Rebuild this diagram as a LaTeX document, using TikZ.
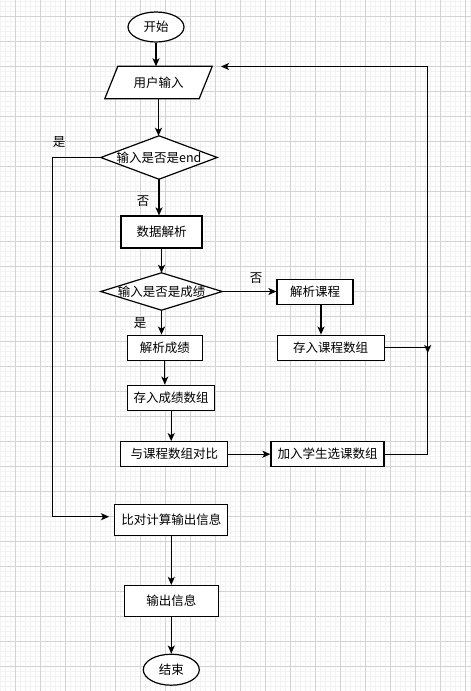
\documentclass[tikz,border=0pt]{standalone}
\usepackage{fontspec}
\setmainfont{Noto Sans CJK SC}
\usetikzlibrary{arrows.meta,shapes.geometric}
\definecolor{gridmajor}{HTML}{D3D3D3}
\definecolor{gridminor}{HTML}{F2F2F2}
\tikzset{
  gminor/.style={draw=gridminor,line width=1pt},
  gmajor/.style={draw=gridmajor,line width=1pt},
  shapeline/.style={draw=black,line width=1.2pt},
  procbox/.style={rectangle,shapeline,fill=white,inner sep=0pt,font=\fontsize{12.5}{14}\selectfont},
  termshape/.style={ellipse,shapeline,fill=white,inner sep=0pt,minimum width=56pt,minimum height=30pt,font=\fontsize{12.5}{14}\selectfont},
  hiddenbox/.style={rectangle,draw=none,inner sep=0pt,font=\fontsize{12.5}{14}\selectfont},
  lbl/.style={inner sep=0pt,font=\fontsize{12.5}{14}\selectfont},
  conn/.style={draw=black,line width=1.2pt,-{Stealth[length=8pt,width=7pt,inset=2pt]}},
}
\begin{document}
\begin{tikzpicture}[x=1pt,y=-1pt]
\fill[white] (0,0) rectangle (471,691);
\useasboundingbox (0,0) rectangle (471,691);
% grid
\foreach \x in {0,5,...,470} \draw[gminor] (\x,0) -- (\x,691);
\foreach \y in {1,6,...,691} \draw[gminor] (0,\y) -- (471,\y);
\foreach \x in {15,40,...,465} \draw[gmajor] (\x,0) -- (\x,691);
\foreach \y in {16,41,...,691} \draw[gmajor] (0,\y) -- (471,\y);

% nodes
\node[termshape] (start) at (156,27) {开始};
\node[hiddenbox,minimum width=94pt,minimum height=32pt] (inp) at (158.5,82.5) {};
\draw[shapeline,fill=white] ([xshift=-6.5pt]inp.south west) -- ([xshift=-6.5pt]inp.south east)
  -- ([xshift=6.5pt]inp.north east) -- ([xshift=6.5pt]inp.north west) -- cycle;
\node[lbl] at (inp) {用户输入};

\node[hiddenbox,minimum width=116pt,minimum height=43pt] (d1) at (159,157.5) {};
\draw[shapeline,fill=white] (d1.north) -- (d1.east) -- (d1.south) -- (d1.west) -- cycle;
\node[lbl] at (d1) {输入是否是end};

\node[procbox,minimum width=81pt,minimum height=32pt] (sjjx) at (161.5,232) {数据解析};

\node[hiddenbox,minimum width=121pt,minimum height=37pt] (d2) at (161.5,291.5) {};
\draw[shapeline,fill=white] (d2.north) -- (d2.east) -- (d2.south) -- (d2.west) -- cycle;
\node[lbl] at (d2) {输入是否是成绩};

\node[procbox,minimum width=76pt,minimum height=25pt] (jxkc) at (315,291.7) {解析课程};
\node[procbox,minimum width=75pt,minimum height=25pt] (jxcj) at (164.8,347.7) {解析成绩};
\node[procbox,minimum width=107pt,minimum height=25pt] (crkc) at (330.7,347.7) {存入课程数组};
\node[procbox,minimum width=87pt,minimum height=25pt] (crcj) at (171.2,397.7) {存入成绩数组};
\node[procbox,minimum width=107pt,minimum height=25pt] (ykc) at (174.3,454.2) {与课程数组对比};
\node[procbox,minimum width=113pt,minimum height=25pt] (jrxs) at (327.5,454.2) {加入学生选课数组};
\node[procbox,minimum width=113pt,minimum height=31pt] (bdjs) at (171.3,519.7) {比对计算输出信息};
\node[procbox,minimum width=94pt,minimum height=31pt] (scxx) at (171.3,601) {输出信息};
\node[termshape,minimum height=31pt] (end) at (171.3,669.7) {结束};

% labels
\node[lbl] (l1) at (59,142) {是};
\node[lbl] (l2) at (143,201) {否};
\node[lbl] (l3) at (256,278) {否};
\node[lbl] (l4) at (140,323) {是};

% helper coordinates
\coordinate (yescorner) at (52.7,516.7);
\coordinate (yesend) at (109,516.7);
\coordinate (mergept) at (427.7,353);
\coordinate (rc) at (427.7,66.5);
\coordinate (loopend) at (221,66.5);

% connectors
\draw[conn] (start.south) -- (start.south |- inp.north);
\draw[conn] (inp.south) -- (inp.south |- d1.north);
\draw[conn] (d1.south) -- (d1.south |- sjjx.north);
\draw[conn] (sjjx.south) -- (sjjx.south |- d2.north);
\draw[conn] (d2.south) -- (d2.south |- jxcj.north);
\draw[conn] (d2.east) -- (d2.east -| jxkc.west);
\draw[conn] ([xshift=6pt]jxkc.south) -- ([xshift=6pt]jxkc.south |- crkc.north);
\draw[conn] (jxcj.south) -- (jxcj.south |- crcj.north);
\draw[conn] (crcj.south) -- (crcj.south |- ykc.north);
\draw[conn] (ykc.east) -- (ykc.east -| jrxs.west);
\draw[conn] (bdjs.south) -- (bdjs.south |- scxx.north);
\draw[conn] (scxx.south) -- (scxx.south |- end.north);
\draw[conn] (d1.west) -| (yescorner) -- (yesend);
\draw[conn] (crkc.east) -| (mergept);
\draw[conn] (jrxs.east) -| (rc) -- (loopend);
\end{tikzpicture}
\end{document}
